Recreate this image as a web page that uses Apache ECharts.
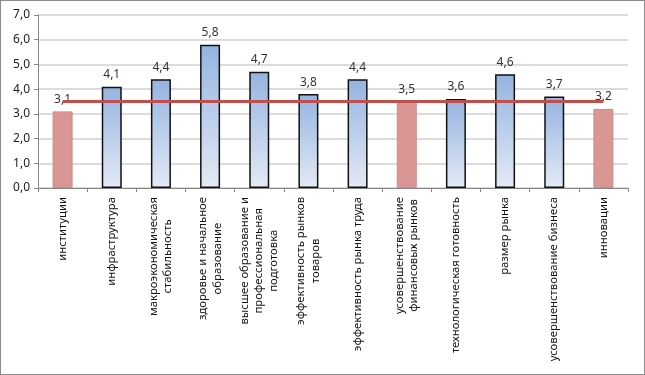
<!DOCTYPE html>
<html>
<head>
<meta charset="utf-8">
<script src="https://cdn.jsdelivr.net/npm/echarts@6/dist/echarts.min.js"></script>
<style>
    html, body { margin: 0; padding: 0; background: #fff; }
    #chart {
        width: 643px;
        height: 373px;
        border: 1px solid #8c8c8c;
    }
</style>
</head>
<body>
<div id="chart"></div>
<script>
// categories (line breaks as in the reference labels)
const categories = [
    'институции',
    'инфраструктура',
    'макроэкономическая\nстабильность',
    'здоровье и начальное\nобразование',
    'высшее образование и\nпрофессиональная\nподготовка',
    'эффективность рынков\nтоваров',
    'эффективность рынка труда',
    'усовершенствование\nфинансовых рынков',
    'технологическая готовность',
    'размер рынка',
    'усовершенствование бизнеса',
    'инновации'
]
const scores = [3.1, 4.1, 4.4, 5.8, 4.7, 3.8, 4.4, 3.5, 3.6, 4.6, 3.7, 3.2]
const average = [3.5, 3.5, 3.5, 3.5, 3.5, 3.5, 3.5, 3.5, 3.5, 3.5, 3.5, 3.5]
const yTicks = { min: 0, max: 7, interval: 1 }

const fmt = (v) => v.toFixed(1).replace('.', ',')
const font = "'Noto Sans', sans-serif"

const chart = echarts.init(document.getElementById('chart'))

const blueFill = new echarts.graphic.LinearGradient(0, 0, 0, 1, [
    { offset: 0, color: '#95b3e0' },
    { offset: 1, color: '#e3eaf6' }
])

chart.setOption({
    animation: false,
    textStyle: { fontFamily: font },
    grid: { left: 37, right: 16, top: 14, bottom: 186, outerBoundsMode: 'none', containLabel: false },
    xAxis: {
        type: 'category',
        data: categories,
        axisLine: { lineStyle: { color: '#868686', width: 1 } },
        axisTick: { show: true, alignWithLabel: false, length: 4, lineStyle: { color: '#868686' } },
        axisLabel: {
            interval: 0,
            rotate: 90,
            margin: 9,
            color: '#000',
            formatter: (v) => v.split('\n').map((s) => '{c|' + s + '}').join('\n'),
            rich: { c: { align: 'center', fontSize: 11.3, lineHeight: 14.5, color: '#111', fontFamily: font } }
        }
    },
    yAxis: {
        type: 'value',
        min: yTicks.min,
        max: yTicks.max,
        interval: yTicks.interval,
        axisLine: { show: true, lineStyle: { color: '#868686', width: 1 } },
        axisTick: { show: true, length: 4, inside: false, lineStyle: { color: '#868686' } },
        axisLabel: { fontSize: 12, color: '#222', margin: 8, formatter: (v) => fmt(v) },
        splitLine: { lineStyle: { color: '#d0d0d0', width: 1.5 } }
    },
    series: [
        {
            type: 'bar',
            barWidth: 20,
            data: scores.map((v) => ({
                value: v,
                itemStyle: v <= 3.5
                    ? { color: '#da9694', borderColor: '#c98a88', borderWidth: 1 }
                    : { color: blueFill, borderColor: '#111', borderWidth: 1.5 }
            })),
            label: {
                show: true,
                position: 'top',
                distance: 6,
                fontSize: 12,
                color: '#333',
                formatter: (p) => fmt(p.value)
            },
            z: 2
        },
        {
            type: 'line',
            data: average,
            symbol: 'none',
            lineStyle: { color: '#c0504d', width: 3 },
            z: 3
        }
    ]
})
</script>
</body>
</html>
